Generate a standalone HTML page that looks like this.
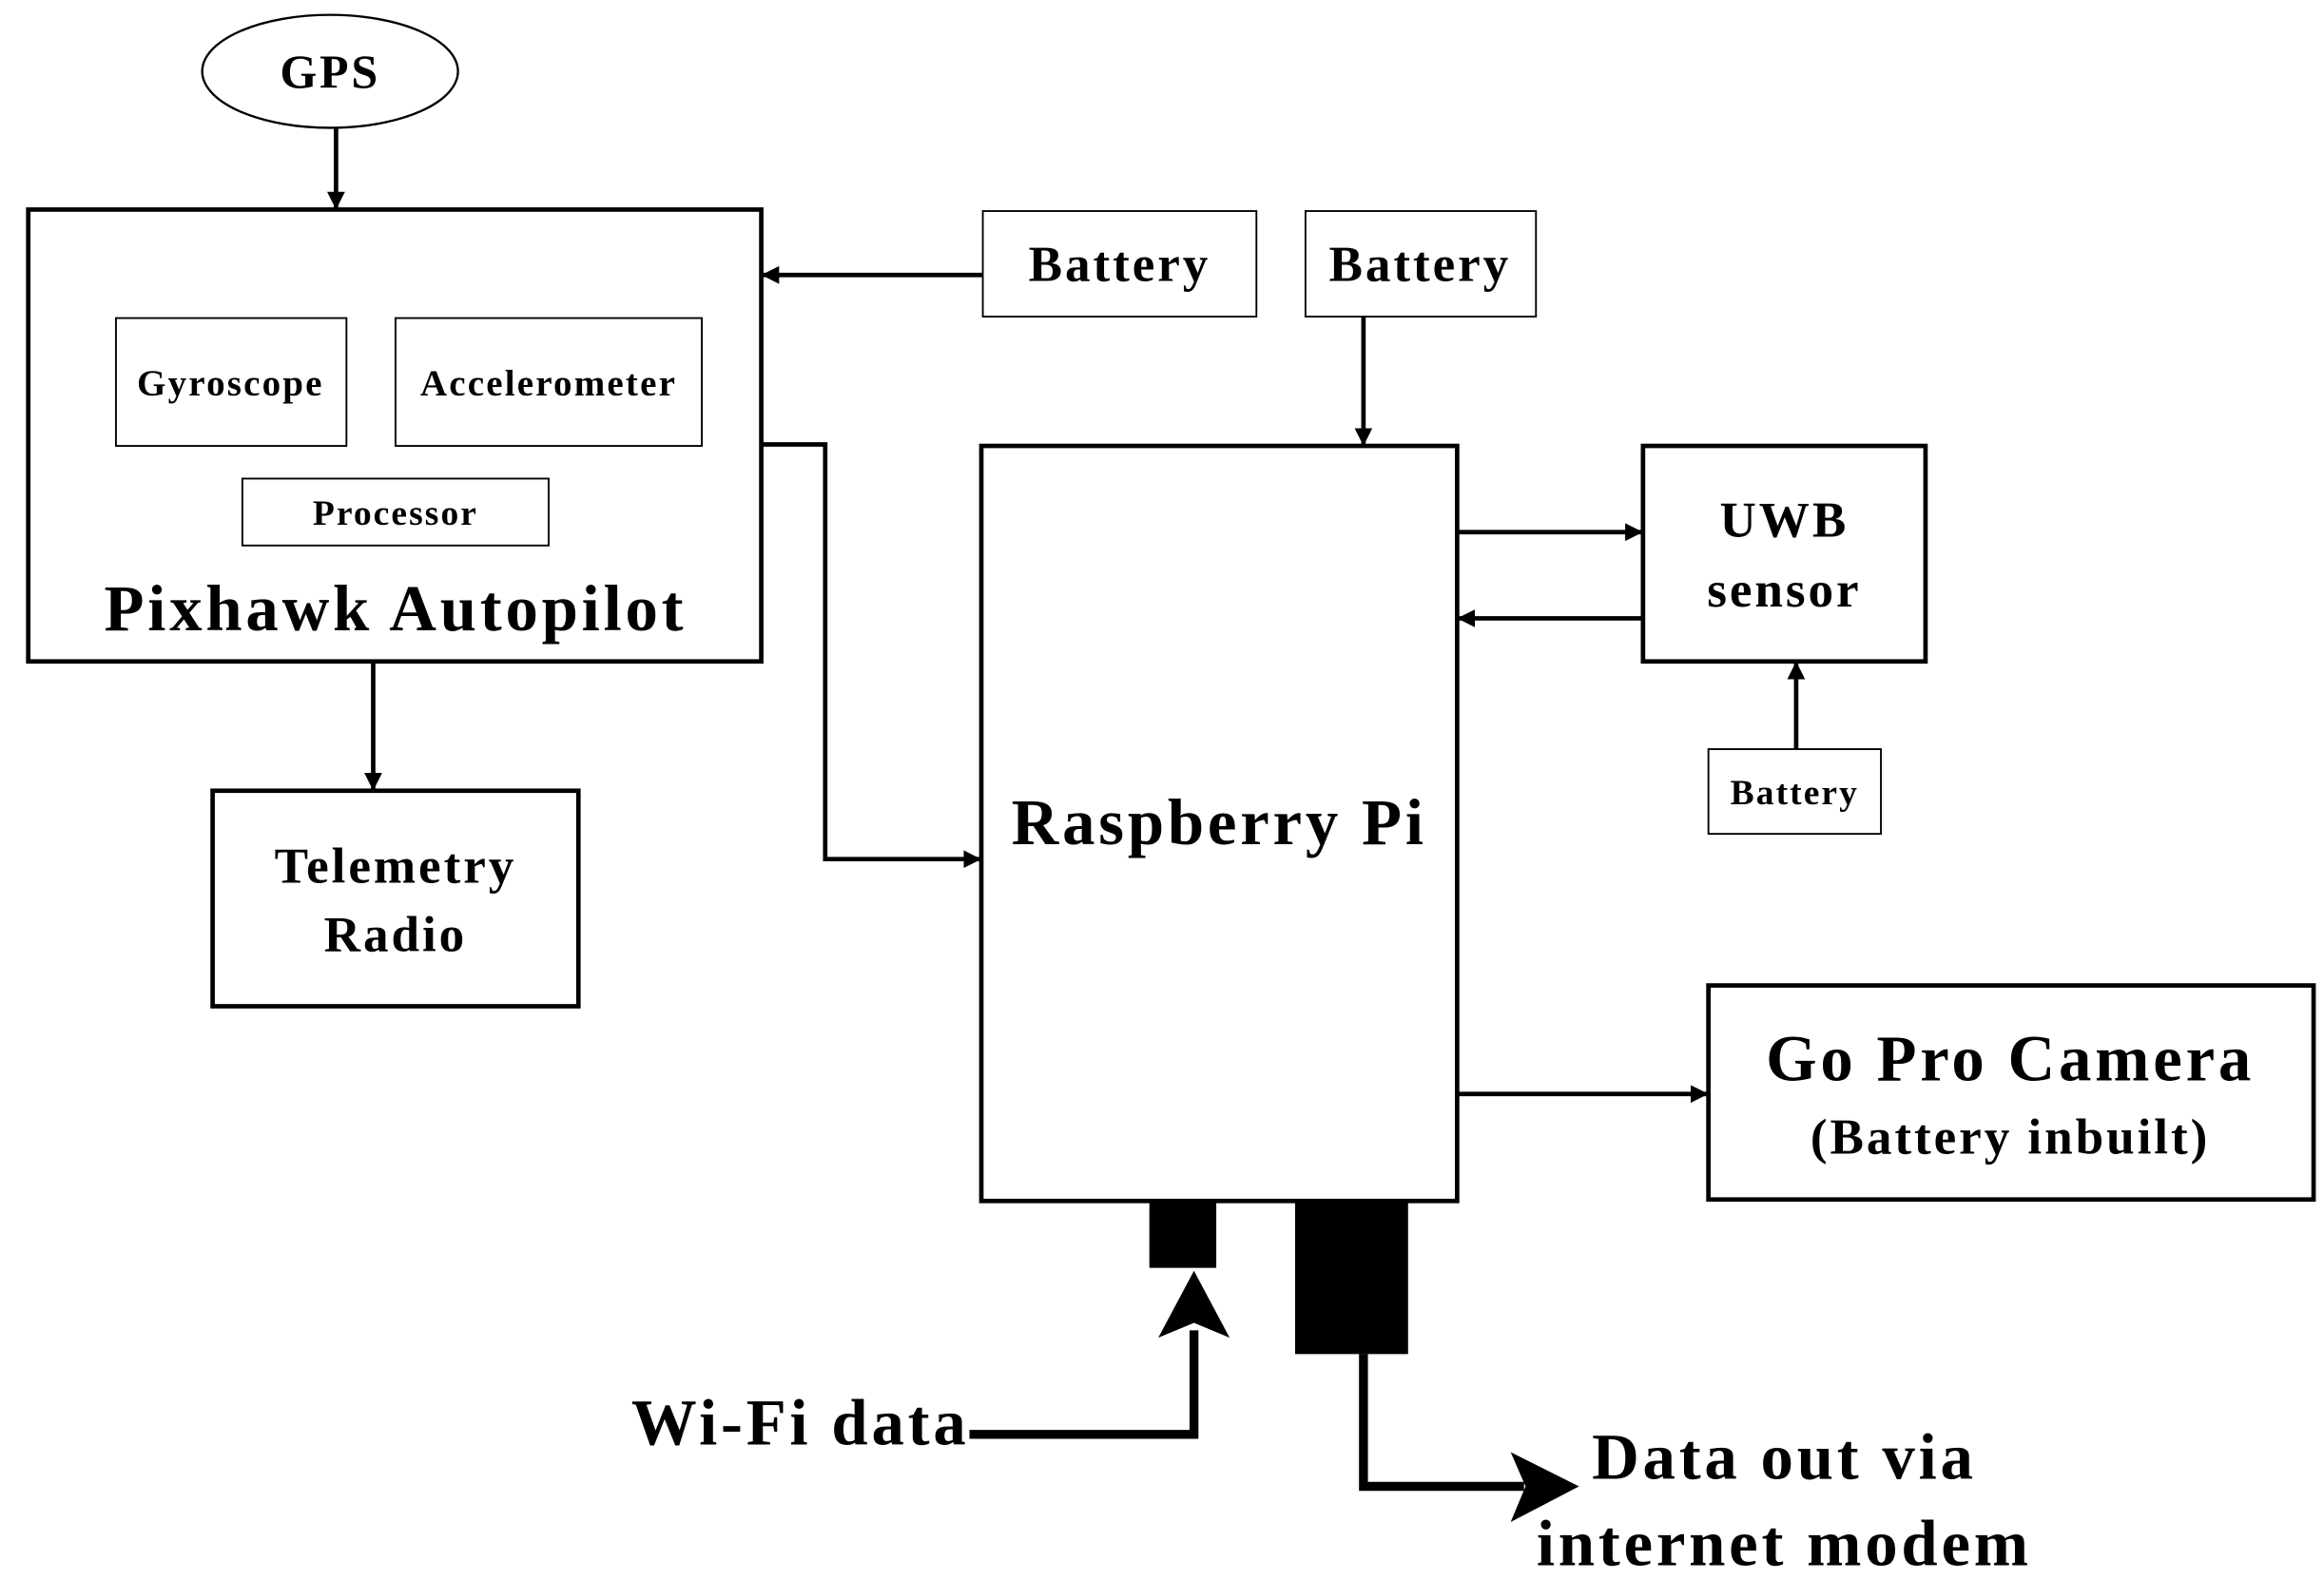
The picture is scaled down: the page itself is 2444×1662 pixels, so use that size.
<!DOCTYPE html>
<html><head><meta charset="utf-8"><style>
html,body{margin:0;padding:0;background:#fff;}
svg{display:block;}
text{font-family:"Liberation Serif",serif;font-weight:bold;fill:#000;letter-spacing:0.055em;}
</style></head><body>
<svg width="2444" height="1662" viewBox="0 0 1563 1063" preserveAspectRatio="none" xmlns="http://www.w3.org/2000/svg">
<defs>
<marker id="a" markerWidth="12" markerHeight="12" refX="11" refY="6" orient="auto" markerUnits="userSpaceOnUse">
<path d="M0,0 L12,6 L0,12 Z" fill="#000"/></marker>
</defs>
<rect width="1563" height="1063" fill="#fff"/>
<g fill="none" stroke="#000">
<ellipse cx="222" cy="48" rx="86" ry="38" stroke-width="1.5"/>
<rect x="19" y="141" width="493" height="304" stroke-width="3"/>
<rect x="78" y="214" width="155" height="86" stroke-width="1.2"/>
<rect x="266" y="214" width="206" height="86" stroke-width="1.2"/>
<rect x="163" y="322" width="206" height="45" stroke-width="1.2"/>
<rect x="143" y="532" width="246" height="145" stroke-width="3"/>
<rect x="661" y="142" width="184" height="71" stroke-width="1.2"/>
<rect x="878" y="142" width="155" height="71" stroke-width="1.2"/>
<rect x="660" y="300" width="320" height="508" stroke-width="3"/>
<rect x="1105" y="300" width="190" height="145" stroke-width="3"/>
<rect x="1149" y="504" width="116" height="57" stroke-width="1.2"/>
<rect x="1149" y="663" width="407" height="144" stroke-width="3"/>
<g stroke-width="3">
<line x1="226" y1="86" x2="226" y2="140" marker-end="url(#a)"/>
<line x1="251" y1="445" x2="251" y2="531" marker-end="url(#a)"/>
<line x1="661" y1="185" x2="513" y2="185" marker-end="url(#a)"/>
<line x1="917" y1="213" x2="917" y2="299" marker-end="url(#a)"/>
<polyline points="512,299 555,299 555,578 659,578" marker-end="url(#a)"/>
<line x1="980" y1="358" x2="1104" y2="358" marker-end="url(#a)"/>
<line x1="1105" y1="416" x2="981" y2="416" marker-end="url(#a)"/>
<line x1="1208" y1="504" x2="1208" y2="446" marker-end="url(#a)"/>
<line x1="980" y1="736" x2="1148" y2="736" marker-end="url(#a)"/>
</g>
<polyline points="652,965 803,965 803,895" stroke-width="6"/>
<polyline points="917,911 917,1000 1025,1000" stroke-width="6"/>
</g>
<rect x="773" y="808" width="45" height="45" fill="#000"/>
<rect x="871" y="808" width="76" height="103" fill="#000"/>
<path d="M803,855 L827,900 L803,890 L779,900 Z" fill="#000"/>
<path d="M1062,1000 L1016,977 L1026,1000 L1016,1024 Z" fill="#000"/>
<g text-anchor="middle">
<text x="222" y="59" font-size="32">GPS</text>
<text x="155" y="266" font-size="25">Gyroscope</text>
<text x="369" y="266" font-size="25">Accelerometer</text>
<text x="266" y="353" font-size="24">Processor</text>
<text x="266" y="424" font-size="44">Pixhawk Autopilot</text>
<text x="266" y="594" font-size="34">Telemetry</text>
<text x="266" y="640" font-size="34">Radio</text>
<text x="753" y="189" font-size="34">Battery</text>
<text x="955" y="189" font-size="34">Battery</text>
<text x="820" y="568" font-size="44">Raspberry Pi</text>
<text x="1200" y="361" font-size="34">UWB</text>
<text x="1200" y="408" font-size="34">sensor</text>
<text x="1207" y="541" font-size="24">Battery</text>
<text x="1352" y="727" font-size="44">Go Pro Camera</text>
<text x="1352" y="776" font-size="34">(Battery inbuilt)</text>
<text x="1200" y="995" font-size="44">Data out via</text>
<text x="1200" y="1053" font-size="44">internet modem</text>
</g>
<text x="652" y="972" font-size="44" text-anchor="end">Wi-Fi data</text>
</svg>
</body></html>
